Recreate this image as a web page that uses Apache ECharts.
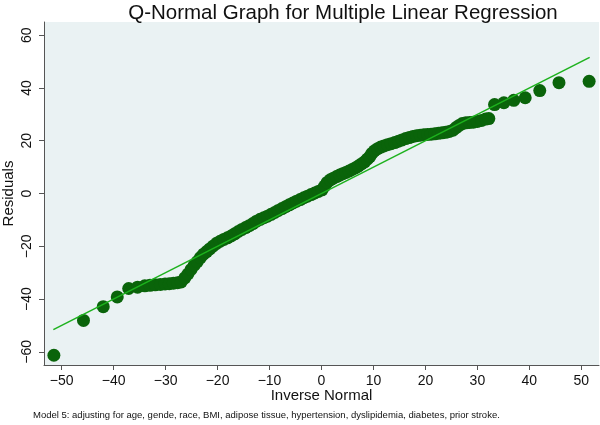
<!DOCTYPE html>
<html>
<head>
<meta charset="utf-8">
<script src="https://cdn.jsdelivr.net/npm/echarts@6/dist/echarts.min.js"></script>
<style>
html,body{margin:0;padding:0;background:#fff;}
#chart{width:600px;height:425px;}
</style>
</head>
<body>
<div id="chart"></div>
<script>
// Inverse normal (x) and residuals (y)
const invNormal = [
  -51.5, -45.8, -42.0, -39.3, -37.1, -35.4, -34.0, -33.0, -32.0, -31.0,
  -30.1, -29.3, -28.5, -27.7, -27.0, -26.3, -25.7, -25.1, -24.5, -23.9,
  -23.3, -22.7, -22.1, -21.5, -20.9, -20.2, -19.5, -18.8, -18.1, -17.4,
  -16.7, -16.0, -15.3, -14.6, -13.9, -13.2, -12.5, -11.8, -11.1, -10.4,
  -9.7, -9.0, -8.3, -7.6, -6.9, -6.2, -5.5, -4.8, -4.1, -3.4,
  -2.7, -2.0, -1.3, -0.6, 0.1, 0.6, 1.1, 1.7, 2.3, 2.9,
  3.5, 4.1, 4.7, 5.3, 5.9, 6.5, 7.1, 7.7, 8.3, 8.8,
  9.3, 9.7, 10.2, 10.8, 11.4, 12.0, 12.7, 13.4, 14.1, 14.8,
  15.5, 16.2, 16.9, 17.6, 18.3, 19.0, 19.7, 20.4, 21.1, 21.8,
  22.5, 23.2, 23.9, 24.6, 25.3, 25.9, 26.5, 27.1, 27.8, 28.5,
  29.2, 30.0, 30.8, 31.6, 32.2, 33.3, 35.1, 37.0, 39.2, 42.0,
  45.7, 51.5
];
const residuals = [
  -61.3, -48.1, -42.9, -39.2, -36.0, -35.5, -35.0, -34.8, -34.6, -34.5,
  -34.3, -34.2, -34.0, -33.8, -33.5, -32.0, -30.5, -28.8, -27.2, -25.8,
  -24.3, -23.0, -22.0, -21.0, -20.0, -18.9, -18.1, -17.4, -16.8, -16.1,
  -15.3, -14.4, -13.6, -12.9, -12.2, -11.4, -10.5, -9.8, -9.2, -8.6,
  -7.9, -7.2, -6.4, -5.7, -5.0, -4.3, -3.6, -2.9, -2.3, -1.6,
  -1.0, -0.4, 0.2, 0.8, 1.4, 2.8, 4.2, 5.2, 5.8, 6.4,
  7.0, 7.5, 8.0, 8.5, 9.1, 9.7, 10.4, 11.2, 12.0, 13.0,
  14.0, 15.2, 16.2, 17.0, 17.6, 18.0, 18.5, 18.9, 19.3, 19.8,
  20.3, 20.8, 21.2, 21.6, 21.9, 22.1, 22.3, 22.4, 22.5, 22.6,
  22.8, 23.0, 23.2, 23.5, 24.0, 25.0, 25.8, 26.5, 26.8, 26.9,
  27.0, 27.3, 27.7, 28.2, 28.4, 33.7, 34.4, 35.3, 36.3, 39.0,
  42.0, 42.5
];
// Reference normal line endpoints
const lineX = [-51.6, 51.6];
const lineY = [-51.6, 51.6];
// Tick labels
const xTicks = [-50, -40, -30, -20, -10, 0, 10, 20, 30, 40, 50];
const yTicks = [-60, -40, -20, 0, 20, 40, 60];

const titleText = 'Q-Normal Graph for Multiple Linear Regression';
const noteText = 'Model 5: adjusting for age, gende, race, BMI, adipose tissue, hypertension, dyslipidemia, diabetes, prior stroke.';

const FONT = '"Liberation Sans", Arial, Helvetica, sans-serif';
const fmt = v => (v < 0 ? '\u2212' + Math.abs(v) : String(v));

const points = invNormal.map((x, i) => [x, residuals[i]]);
const linePts = lineX.map((x, i) => [x, lineY[i]]);

const chart = echarts.init(document.getElementById('chart'), null, {renderer: 'canvas'});
chart.setOption({
  animation: false,
  backgroundColor: '#ffffff',
  title: {
    text: titleText,
    left: 338, top: -2, textAlign: 'center',
    textStyle: {fontFamily: FONT, fontSize: 20.5, fontWeight: 'normal', color: '#111'}
  },
  graphic: [{
    type: 'text', left: 33, top: 410,
    style: {text: noteText, fontFamily: FONT, fontSize: 9.5, fill: '#111'}
  }],
  grid: {
    left: 44, right: 1, top: 22, bottom: 60,
    outerBoundsMode: 'none', containLabel: false,
    show: true, backgroundColor: '#eaf2f3', borderWidth: 0
  },
  xAxis: {
    type: 'value', min: -53.4, max: 53.4,
    name: 'Inverse Normal', nameLocation: 'middle', nameGap: 23, nameMoveOverlap: false,
    nameTextStyle: {fontFamily: FONT, fontSize: 15, color: '#111'},
    axisLine: {show: true, onZero: false, lineStyle: {color: '#555', width: 1}},
    axisTick: {show: true, length: 5, customValues: xTicks, lineStyle: {color: '#555'}},
    axisLabel: {customValues: xTicks, formatter: fmt, margin: 9,
      fontFamily: FONT, fontSize: 14, color: '#111'},
    splitLine: {show: false}
  },
  yAxis: {
    type: 'value', min: -65, max: 65,
    name: 'Residuals', nameLocation: 'middle', nameGap: 28, nameMoveOverlap: false,
    nameTextStyle: {fontFamily: FONT, fontSize: 15, color: '#111'},
    axisLine: {show: true, onZero: false, lineStyle: {color: '#555', width: 1}},
    axisTick: {show: true, length: 5, customValues: yTicks, lineStyle: {color: '#555'}},
    axisLabel: {customValues: yTicks, formatter: fmt, rotate: 90, margin: 10,
      fontFamily: FONT, fontSize: 14, color: '#111'},
    splitLine: {show: false}
  },
  series: [
    {
      type: 'scatter', data: points, symbol: 'circle', symbolSize: 13,
      itemStyle: {color: '#0a640a', opacity: 1}
    },
    {
      type: 'line', data: linePts, symbol: 'none',
      lineStyle: {color: '#1db21d', width: 1.5}
    }
  ]
});
</script>
</body>
</html>
